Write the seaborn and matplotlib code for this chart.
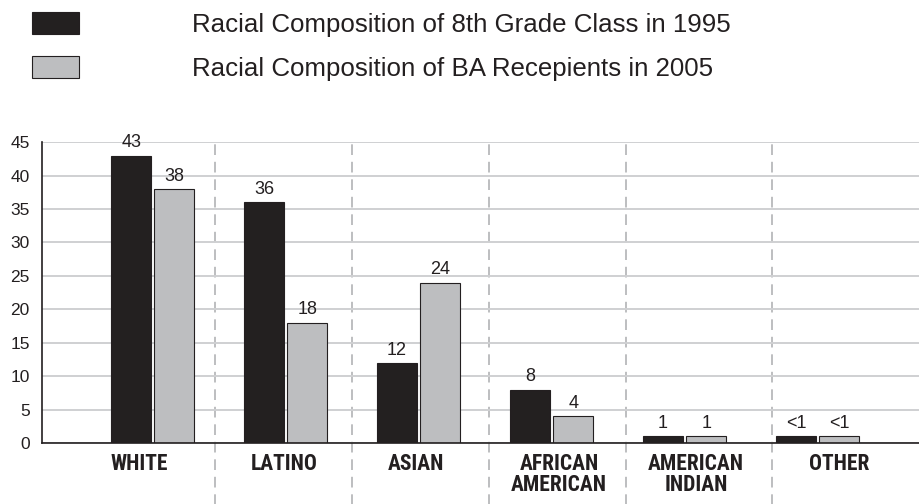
import matplotlib
matplotlib.use("Agg")
import matplotlib.pyplot as plt
import matplotlib.transforms as mtransforms
import pandas as pd
import seaborn as sns

CATEGORIES = ["WHITE", "LATINO", "ASIAN", "AFRICAN\nAMERICAN", "AMERICAN\nINDIAN", "OTHER"]
SERIES = ["Racial Composition of 8th Grade Class in 1995",
          "Racial Composition of BA Recepients in 2005"]
GRADE8_1995 = [43, 36, 12, 8, 1, 1]
BA_2005 = [38, 18, 24, 4, 1, 1]
GRADE8_LABELS = ["43", "36", "12", "8", "1", "<1"]
BA_LABELS = ["38", "18", "24", "4", "1", "<1"]
Y_TICKS = [0, 5, 10, 15, 20, 25, 30, 35, 40, 45]

DARK = "#231f20"
LIGHT = "#bcbec0"
# the original is hand-laid: separators and category labels drift off centre
SEPARATORS = [0.47, 1.5, 2.53, 3.56, 4.66]
LABEL_SHIFT_PX = [-13.5, -2, -3, 7.5, 11.5, 21.5]

df = pd.DataFrame({
    "category": CATEGORIES * 2,
    "series": [SERIES[0]] * len(CATEGORIES) + [SERIES[1]] * len(CATEGORIES),
    "value": GRADE8_1995 + BA_2005,
})

sns.set_theme(style="white")
plt.rcParams["font.family"] = ["Liberation Sans", "DejaVu Sans"]

fig = plt.figure(figsize=(9.19, 5.04), dpi=100)
ax = fig.add_axes([0.046, 0.121, 0.954, 0.597])

sns.barplot(
    data=df, x="category", y="value", hue="series",
    palette=[DARK, LIGHT], width=0.65, gap=0.07,
    edgecolor=DARK, linewidth=0.8, ax=ax, legend=True,
)

for container, labels in zip(ax.containers, [GRADE8_LABELS, BA_LABELS]):
    ax.bar_label(container, labels=labels, padding=3, fontsize=13, color=DARK)

ax.set_ylim(0, 45)
ax.set_xlim(-0.831, 5.763)
ax.set_yticks(Y_TICKS)
ax.tick_params(axis="y", length=0, labelsize=12.5, colors=DARK, pad=9)
ax.tick_params(axis="x", length=0, pad=7)
for lbl, shift in zip(ax.get_xticklabels(), LABEL_SHIFT_PX):
    lbl.set_family(["Roboto Condensed", "DejaVu Sans"])
    lbl.set_fontweight("bold")
    lbl.set_fontsize(15.5)
    lbl.set_color(DARK)
    lbl.set_linespacing(0.95)
    offset = mtransforms.ScaledTranslation(shift / 100, 0, fig.dpi_scale_trans)
    lbl.set_transform(lbl.get_transform() + offset)

ax.yaxis.grid(True, color="#cfd0d2", linewidth=1.4)
ax.set_axisbelow(True)
for side in ["top", "right"]:
    ax.spines[side].set_visible(False)
ax.spines["left"].set_color(DARK)
ax.spines["bottom"].set_color(DARK)
ax.spines["left"].set_linewidth(1.2)
ax.spines["bottom"].set_linewidth(1.2)
ax.set_xlabel("")
ax.set_ylabel("")

for xpos in SEPARATORS:
    ax.axvline(xpos, ymin=-0.21, ymax=0.995, color="#bdbec0",
               linestyle=(0, (5.5, 3.5)), linewidth=1.4, clip_on=False, zorder=0)

handles, labels = ax.get_legend_handles_labels()
ax.legend_.remove()
fig.legend(
    handles, labels, loc="upper left", bbox_to_anchor=(0.024, 0.996),
    borderaxespad=0, frameon=False, fontsize=18.6, handlelength=1.82,
    handleheight=0.92, handletextpad=4.35, labelspacing=0.72, labelcolor=DARK,
)

fig.savefig("out.png", dpi=100)
